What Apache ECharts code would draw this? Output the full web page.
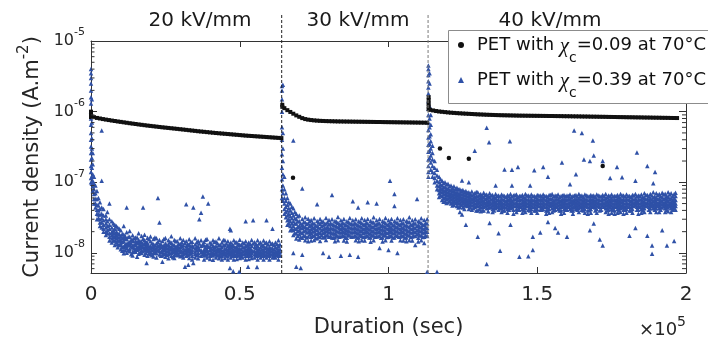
<!DOCTYPE html>
<html><head><meta charset="utf-8">
<script src="https://cdn.jsdelivr.net/npm/echarts@6/dist/echarts.min.js"></script>
<style>html,body{margin:0;padding:0;background:#fff}#c{width:708px;height:345px}</style>
</head><body><div id="c"></div>
<script>
// ---------- data (t in kiloseconds, values in 1e-9 A.m^-2) ----------
const T_UNIT = 1000;
const V_UNIT = 1e-9;
const xTickLabels = ['0', '0.5', '1', '1.5', '2'];
const fieldLabels = ['20 kV/mm', '30 kV/mm', '40 kV/mm'];
const stepTimes = [64.1, 113.3];
const minorTickValues = [6e-9,7e-9,8e-9,9e-9,2e-8,3e-8,4e-8,5e-8,6e-8,7e-8,8e-8,9e-8,2e-7,3e-7,4e-7,5e-7,6e-7,7e-7,8e-7,9e-7,2e-6,3e-6,4e-6,5e-6,6e-6,7e-6,8e-6,9e-6];
const seriesNames = ['PET with \u03c7c=0.09 at 70\u00b0C', 'PET with \u03c7c=0.39 at 70\u00b0C'];
const legendValues = ['0.09', '0.39'];

// black series: rows [t, v1, v2, ...]
const blackSeg1 = [[0,1000,940,880,840],[1,835],[2,815],[3,800],[4,785],[5,772],[6,760],[7,748],[8,737],[9,726],[10,716],[11,706],[12,696],[13,686],[14,677],[15,668],[16,659],[17,651],[18,643],[19,635],[20,628],[21,621],[22,614],[23,607],[24,600],[25,594],[26,588],[27,582],[28,576],[29,570],[30,564],[31,558],[32,552],[33,546],[34,540],[35,534],[36,528],[37,523],[38,518],[39,513],[40,508],[41,503],[42,498],[43,494],[44,490],[45,486],[46,482],[47,478],[48,474],[49,470],[50,466],[51,462],[52,458],[53,455],[54,452],[55,449],[56,446],[57,443],[58,440],[59,437],[60,434],[61,431],[62,428],[63,425],[64,422]];
const blackSeg2 = [[64.3,1250,1170],[65,1120],[66,1050],[67,990],[68,935],[69,885],[70,845],[71,810],[72,785],[73,770],[74,760],[75,752],[76,746],[77,741],[78,738],[79,735],[80,733],[81,731],[82,729],[83,727],[84,726],[85,725],[86,724],[87,723],[88,722],[89,721],[90,720],[91,719],[92,718],[93,717],[94,716],[95,715],[96,714],[97,713],[98,712],[99,711],[100,710],[101,709],[102,708],[103,707],[104,706],[105,705],[106,704],[107,703],[108,702],[109,701],[110,700],[111,699],[112,698],[113,697]];
const blackSeg3 = [[113.5,1600,1450,1300,1180,1080],[114,1060],[115,1040],[116,1020],[117,1005],[118,995],[119,985],[120,975],[121,967],[122,960],[123,953],[124,947],[125,941],[126,936],[127,931],[128,926],[129,921],[130,916],[131,912],[132,908],[133,904],[134,901],[135,898],[136,895],[137,892],[138,890],[139,888],[140,886],[141,884],[142,882],[143,880],[144,878],[145,877],[146,876],[147,875],[148,874],[149,873],[150,872],[151,871],[152,870],[153,869],[154,868],[155,867],[156,866],[157,865],[158,864],[159,862],[160,861],[161,860],[162,858],[163,857],[164,856],[165,854],[166,853],[167,852],[168,850],[169,849],[170,848],[171,846],[172,845],[173,844],[174,842],[175,841],[176,840],[177,838],[178,837],[179,836],[180,834],[181,833],[182,832],[183,830],[184,829],[185,828],[186,826],[187,825],[188,824],[189,822],[190,821],[191,820],[192,818],[193,817],[194,816],[195,814],[196,813],[197,812]];
const blackStray = [[67.9,116],[117.3,300],[120.3,220],[127,215],[172,170]];

// blue series: rows [t, v1, v2, ...]
const blueSeg1 = [
[0,4000,3500,3000,2500,2000,1600,1300,1000,800,650,500,400,320,260,210,170,140,115,100],
[0.3,1500,700,420,300,220,160,120,95],[0.6,260,180,130,105,88,75],[1,120,95,80,68,58,50],
[1.5,90,70,58,50,44],[2,75,58,48,41,36,30],[2.5,60,47,40,35,31],[3,52,42,35,30,27,24],
[3.6,540,105,44,36,31,27,23],[4.2,42,34,29,25,22,20],[5,34,30,26,23,20,18],[5.5,38,28,24,21,19],
[6.2,50,30,25,22,19,17,15],[7,28,23,20,18,16,14],[7.5,26,21,19,17,15],[8,25,22,19,17,15,13],
[8.5,24,20,18,16,14],[9,23,19,17,15,13.5,12],[9.5,22,18.5,16.5,15,13],
[10,21,17.2,15.1,13.8,12.9,11.3],[10.5,18.6,16.2,14.4,12.1,10.7],[11,24,18.3,16.4,14.6,12.2,10.8,9.9],
[11.5,17.4,15.8,13.3,12.5,11.1],[12,44,19.6,15.7,13.4,12.6,11.7,10.1],[12.5,16.8,14.1,12.9,10.9],
[13,20.4,16.9,14.2,13.1,11.4,10.6],[13.5,15.4,13.7,12.3,9.6],[14,17.8,15.3,14.7,12.4,11.9,10.3,9.2],
[14.5,16.1,13.2,11.6,10.5],[15,16.6,14.9,13.6,12.8,11.2,10.4],[15.5,8.8,16.5,14,12,11.1],
[16,19,15.2,13.9,12.2,11.5,9.7],[16.5,14.6,13.1,11.8,10.2],[17,17.3,14.4,12.7,12.1,10.9,10],
[17.5,44,15.9,13.3,12,10.6],[18,18.1,15.1,13.5,11.7,11,9.4],[18.5,14.2,12.6,11.3,10.1],[18.7,7.2,13.9,12.2],
[19,16.4,13.8,12.9,11.6,10.7,9.1],[19.5,15.6,12.4,11.1,9.8],[20,17.1,14.6,12.3,11.8,10.4,9.6],
[20.5,13.7,12.1,10.9,9.3],[21,15.7,13.3,12.4,11.2,10.1,8.9],[21.5,16.6,12.8,11.5,10.3],
[22,16.2,13.6,11.9,11,9.9,8.6],[22.5,60,14.3,12.6,10.8],[23,27,15.2,12.9,11.7,10.6,9.5],
[23.5,13.4,12.1,10.2,9.1],[24,7.5,14.7,12.3,11.1,10.3,9.2],[24.5,15.8,12.7,11.4,9.7],
[25,16.3,13.6,12.2,10.9,10,8.8],[25.5,13.1,11.8,10.5,9.4],[26,15.1,12.9,11.6,10.7,9.6,8.4],
[26.5,14.4,12.4,11.2,9.9],[27,17.2,13.9,12.1,11.3,10.1,9.1],[27.5,13.2,11.7,10.4,8.7],
[28,15.3,12.8,11.5,10.6,9.4,8.5],[28.5,14.8,12.2,11,9.8],[29,14.6,12.6,11.4,10.3,9.3],
[29.5,13.5,11.9,10.8,9.5],[30,16.1,13.4,12.1,11.1,10.2,9],[30.5,14.1,12.5,10.6,9.2],
[31,15.2,12.9,11.6,10.4,9.6,8.6],[31.6,6.4,13.8,11.1,10],[32,49,14.6,12.4,11.2,10.1,9.1],
[32.5,13.3,11.8,10.7,9.4],[32.7,6.8,12.9,10.5],[33,15.6,13.1,11.4,10.6,9.6,8.5],[33.5,14.2,12.3,11.1,9.9],
[34,14.4,12.6,11,10.2,9.1,8.1],[34.4,44,7.2,12.1],[35,16.2,13.2,11.6,10.5,9.7,8.6],[35.5,14,12.2,10.9,9.3],
[36,14.7,12.4,11.2,10.1,9.4,8.4],[36.4,30,13.6,11.3],[37,37,15.1,12.6,11,10.2,9.1],[37.6,63,13.2,10.4,9.6],
[38,14.3,12.7,11.1,10,9.2,8.1],[38.5,15.4,12.1,10.7,9.5],[39,15.7,13.1,11.4,10.6,9.5,8.6],[39.4,50,12.2,10.1],
[40,14.1,12.2,11.1,9.9,9.1,8.2],[40.5,13.4,11.6,10.3,9.4],[41,8,15.1,12.6,11.2,10.1,9.2],[41.5,14.3,12,10.8,9.6],
[42,14.5,12.4,11,10.2,9.6,8.6],[42.5,13.7,11.5,10.5,9.2],[43,16.2,13.1,11.6,10.6,9.4,8.4],[43.5,12.8,11.3,10.1,8.9],
[44,14,12.1,10.9,10,9.1,8.1],[44.5,15.2,12.7,10.6,9.5],[45,15.1,12.9,11.5,10.4,9.6,8.5],[45.5,13.6,11.4,10.2,9.2],
[46,14.6,12.5,11.1,10,9,8.1],[46.5,13.2,11.8,10.5,9.6],[46.7,22,6.1,12.9,10.6],[47,21,14.1,12,10.6,9.5,8.6],
[47.5,13.1,11.3,10.2,9.1],[47.8,5.5,12.6,10.1],[48,15.1,12.4,11.1,10.1,9.1,8.1],[48.5,14,11.9,10.7,9.4],
[49,14.2,12.1,11,9.9,9.1,8.2],[49.5,13.3,11.5,10.3,9.3],[49.8,5.4,13,10.6],[50,15.4,13.1,11.6,10.5,9.5,8.5],
[50.5,12.9,11.2,10,9],[51,14.1,12.2,10.6,9.6,8.6],[51.5,13.7,11.9,10.8,9.7],[52,28,14.6,12.5,11.1,10.1,9.1,8.1],
[52.5,13.1,11.4,10.3,9.2],[52.8,6.4,12.8,10.4],[53,14.1,12.1,11,10,9.1,8.2],[53.5,13.5,11.6,10.5,9.4],
[54,15.2,12.6,11.1,10.1,9.2,8.5],[54.5,29,13.6,10.6],[55,14.2,12.1,10.6,9.6,8.6],[55.5,13.3,11.7,10.4,9.3],
[55.8,6.3,12.6,10.1],[56,15.1,12.5,11.1,10,9.1,8.1],[56.5,13.6,11.5,10.2,9.4],[57,14.1,12,10.6,9.6,8.6],
[57.5,12.9,11.3,10.1,9.1],[58,15,12.6,11.1,10.1,9.1,8.1],[58.5,13.8,11.8,10.5,9.3],[59,29,14.1,12.1,10.6,9.6,8.6],
[59.5,13.2,11.4,10.2,9.2],[60,14.6,12.1,11.1,10,9.1,8.1],[60.5,13.5,11.7,10.6,9.5],[61,22,13.6,11.6,10.6,9.6,8.6],
[61.5,12.9,11.2,10.1,9.1],[62,14.1,12.1,10.6,9.6,8.6],[62.5,13.4,11.6,10.4,9.4],[63,15.1,12.6,11.1,10.1,9.1,8.1],
[63.5,13.2,11.4,10.2,9.2]];
const blueSeg2 = [
[64.2,2300,2000,1500,1000,600,400,250,160,110,80,60],[64.5,2400,500,300,200,130,90,70,55],
[65,120,80,60,50,42,36],[65.5,70,55,45,38,32],[66,60,48,40,34,29,25],[66.5,52,43,36,30,26],
[67,50,40,33,28,24,21],[67.5,45,37,31,26,22],[68,390,43,34,28,24,21,18,10],[68.5,38,31,26,22,19],
[69,36,30,26,22,19,16,6.4],[69.5,33,28,23.5,20.5,17.5],
[70,34,28,24.3,21.2,18.4,15.5],[70.5,6.1,26.1,22.4,19.6,16.8],[71,82,30.2,25.1,22.7,19.1,16.4,9.4],
[71.5,27.4,23.6,20.3,17.6],[72,32,27.1,23.2,20.8,17.3,15.1],[72.5,25.7,22.1,19.4,16.6],
[73,30.4,26.3,22.6,19.9,17.1,14.6],[73.5,28.1,24.2,20.6,18.2],[74,29.3,25.1,21.8,19.2,16.9,15],
[74.5,26.6,23.1,20.1,17.5],[75,31.1,26.2,22.7,20.3,17.6,15.2],[75.5,24.4,21.5,18.8,16.3],
[76,49,28.3,24.1,21.2,18.6,16.1],[76.5,26.9,22.9,19.7,17.2],[77,30.2,25.8,22.1,19.3,17,14.7],
[77.5,27.7,23.8,20.7,18],[78,28.2,24.6,21.6,19.1,16.5,10],[78.5,25.4,22.2,19.4,16.9],
[79,31.3,26.1,22.5,20.2,17.7,15.2],[79.5,27.1,23.4,20.5,17.9],[80,29.2,25.2,21.9,19.4,16.9,8.8],
[80.5,26.3,22.8,19.9,17.3],[81,66,30.1,25.6,22.1,19.2,16.6],[81.5,24.8,21.6,18.9,16.4],
[82,28.4,24.5,21.4,18.9,16.7,14.6],[82.5,27.6,23.7,20.4,17.8],[83,32.2,26.8,23.1,20.1,17.4,15.1],
[83.5,25.3,22.4,19.6,17],[84,29.1,25.1,22,19.5,17.2,9.1],[84.5,26.7,23.2,20.2,17.6],
[85,30.3,26.1,22.6,19.9,17.5,15],[85.5,24.9,21.7,19.1,16.5],[86,28.1,24.6,21.3,18.8,16.4,14.5],
[86.5,27.3,23.5,20.6,18.1],[87,31.2,26.4,23,20.1,17.6,9.4],[87.5,25.6,22.3,19.5,16.9],
[88,54,29.1,25.2,22.1,19.6,17.1],[88.5,26.2,23,20,17.4],[89,30.1,26,22.4,19.8,17.3,15.1],
[89.5,24.7,21.7,19,16.6],[89.8,44,8.8],[90,28.2,24.4,21.4,18.9,16.6,14.6],[90.5,27.4,23.6,20.5,17.9],
[91,31.1,26.6,22.9,20.2,17.5,15.1],[91.5,25.2,22,19.3,16.8],[92,29.2,25.1,21.9,19.4,17,15],
[92.5,26.8,23.3,20.3,17.7],[93,52,30.2,26.1,22.6,19.9,17.4],[93.5,24.6,21.6,18.9,16.5],
[94,28.3,24.5,21.4,18.9,16.6,14.4],[94.5,27.2,23.4,20.4,17.8],[95,32.1,27,23.1,20.1,17.6,15.1],
[95.5,25.1,22.2,19.5,16.9],[96,50,29.1,25.2,22,19.5,17.1],[96.5,26.4,22.8,20,17.4],
[97,30.2,26.1,22.5,19.9,17.4,11.7],[97.5,24.3,21.4,18.8,16.4],[98,28.1,24.6,21.5,19,16.6,14.5],
[98.5,27.5,23.7,20.7,18],[99,31.2,26.4,23,20,17.6,15.1],[99.5,25.3,22.1,19.3,16.8],
[100,29.1,25.1,22,19.5,17,11],[100.5,105,26.9,23.2,20.4,17.6],[101,30.3,26,22.4,19.9,17.4,15],
[101.5,24.8,21.7,19,16.5],[102,68,46,28.2,24.4,21.5,19.1,16.6],[102.5,27.1,23.5,20.5,17.8],
[103,31.1,26.6,23,20.1,17.5,10],[103.5,25.4,22.3,19.5,16.9],[104,29.3,25.1,21.9,19.4,17.1,15.1],
[104.5,26.5,23,20.2,17.6],[105,30.1,26.2,22.6,19.9,17.4,15],[105.5,24.6,21.6,18.9,16.5],
[106,28.3,24.4,21.4,18.9,16.5,14.6],[106.5,27.6,23.8,20.6,17.9],[107,32.1,27.1,23.1,20.1,17.6,15.1],
[107.5,25.2,22.1,19.4,16.8],[108,29.1,25.1,22,19.5,17.1,15],[108.5,26.3,22.9,20.1,17.5],
[109,30.1,26.2,22.5,19.8,17.4,13],[109.6,58,24.1,20.8,18.3],[110,28.1,24.6,21.4,18.9,16.4,14.5],
[110.5,27.3,23.5,20.4,17.8],[111,31.1,26.4,23,20.2,17.6,15.1],[111.5,25.1,22.1,19.4,16.8],
[112,29.2,25,21.9,19.5,17,13.8],[112.5,26.7,23.2,20.3,17.7],[113,30.3,26.2,22.5,19.9,17.4,5.4]];
const blueSeg3 = [
[113.4,4500,4000,3300,2700,2200,1800,1400,1100,900,700,550,430,340,270,210,170,140,120],
[113.8,3500,2500,1200,800,600,450,350,280,220],[114.2,900,650,480,380,300,240,190,150],
[114.8,330,260,210,170,140,120],[115.5,200,160,135,115,100],[116.3,150,125,105,90,80,5.4],
[117,120,100,88,78,70,62],[117.5,110,94,83,74,66],[118,105,90,80,72,64,56],[118.5,98,85,76,68,60,53],
[119,100,86,76,68,61,54],[119.5,93,81,72,65,58,51],[120,95,82,73,66,59,52],[120.5,88,77,69,62,55],
[121,90,78,70,63,57,50],[121.5,84,74,66,59,53,47],[122,88,76,68,61,55,48],[122.5,81,71,64,57,51],
[123,84,73,65,59,53,46],[123.5,79,69,62,56,50,44],[124,80,70,63,57,51,45,38],[124.5,76,67,60,54,48],
[124.7,106,35],[125,78,68,61,55,50,44],[125.5,73,65,58,52,47,42],[126,75,66,59,54,48,25],
[126.5,71,63,56,51,46],[127,100,72,64,58,52,47,42],[127.5,69,61,55,49,44],[128,74,65,58,52,47,41],
[128.5,67,60,54,48,43],[129,280,70,62,56,50,45],[129.5,73,64,57,51,46,40],[130,72,63,56,51,46,40,17],
[130.5,66,59,53,47,42],[131,68,60,54,49,44,39],[131.5,64,56,50,45,40],[132,71,62,55,50,45,40],
[132.5,66,58,51,46],[133,590,67,59,53,48,43,7],[133.5,63,55,49,44,39],[133.8,370,62,50],
[134,70,61,54,49,44,26.5],[134.5,65,57,50,45],[135,66,58,52,47,42,38],[135.5,62,55,49,44,40],
[136,90,68,60,53,48,43],[136.5,64,56,50,45],[137,65,57,51,46,41,19],[137.5,10.7,63,55,51,47,43],
[138,67,59,53,48,43,38],[138.5,65,57,50,45,40],[139,152,64,56,50,45,40],[139.5,62,54,49,44],
[140,66,58,52,47,42,37],[140.5,64,56,50,45,41],[140.8,380,60,48],[141,68,59,53,48,43,25],
[141.5,150,90,63,55,49,44],[142,65,57,51,46,41,36],[142.5,66,58,51,46],[143,67,59,52,47,42,38],
[143.5,165,62,56,50,46,41],[144,64,56,50,45,41,8.8],[144.5,64,57,50,45],[145,66,58,52,47,42,37],
[145.5,62,55,49,44,40],[146,68,59,53,48,43,38],[146.5,65,57,51,46],[147,65,57,51,46,41,9],
[147.5,63,55,49,44,40],[147.6,90,55,45],[148,67,58,52,47,42,37],[148.5,17,11,64,56,50,45],
[149,148,64,56,50,45,40],[149.5,62,55,49,44,40],[150,66,58,52,47,42,37],[150.5,65,57,51,46],
[151,65,57,51,46,41,19.5],[151.5,63,56,50,45,41],[152,165,67,59,52,47,42],[152.5,64,57,50,45],
[153,64,56,50,45,40,36],[153.5,62,55,49,44,40],[153.6,120,27.5,54],[154,66,58,52,47,42,37],
[154.5,66,58,51,46],[155,68,59,53,48,43,38],[155.5,63,55,49,44,40],[156,65,57,51,46,41,22.5],
[156.5,64,57,50,45],[157,67,58,52,47,42,19.5],[157.5,62,55,49,44,40],[158,64,56,50,45,40,36],
[158.3,190,55,46],[158.5,65,57,51,46],[159,66,58,52,47,42,37],[159.5,63,56,50,45,41],
[160,65,57,51,46,41,17],[160.5,64,57,50,45],[161,94,67,58,52,47,42],[161.5,62,55,49,44,40],
[162,64,56,50,45,40,36],[162.4,540,54,44],[162.5,65,57,51,46],[163,130,66,58,52,47,42],
[163.5,63,56,50,45,41],[164,68,59,53,48,43,38],[164.5,64,57,50,45],[165,500,65,57,51,46,41],
[165.5,62,55,49,44,40],[165.7,210,55,47],[166,67,58,52,47,42,37],[166.5,65,57,51,46],
[167,64,56,50,45,40,36],[167.5,63,56,50,45,41],[167.7,200,21,52],[168,66,58,52,47,42,37],
[168.5,64,57,50,45],[168.7,390,55,45],[169,240,65,57,51,46,26],[169.5,62,55,49,44,40],
[170,67,58,52,47,42,37],[170.5,65,57,51,46],[171,64,56,50,45,40,15.5],[171.5,63,56,50,45,41],
[172,200,66,58,52,47,12.7],[172.5,64,57,50,45],[173,68,59,53,48,43,38],[173.5,62,55,49,44,40],
[174,65,57,51,46,41,36],[174.5,115,64,58,54,48,44],[175,67,58,52,47,42,37],[175.5,63,56,50,45,41],
[176,64,56,50,45,40,36],[176.5,64,57,50,45],[176.8,165,55,46],[177,66,58,52,47,42,37],
[177.5,62,55,49,44,40],[178,68,59,53,48,43,38],[178.5,118,65,57,52,47,44],[179,65,57,51,46,41,36],
[179.5,63,56,50,45,41],[180,67,58,52,47,42,37],[180.5,64,57,50,45],[181,64,56,50,45,40,17.5],
[181.5,62,55,49,44,40],[182,66,58,52,47,42,37],[182.5,65,57,51,46],[183,105,68,59,53,48,22.5],
[183.5,265,63,55,50,45,41],[184,65,57,51,46,41,36],[184.5,64,57,50,45],[185,67,58,52,47,42,37],
[185.5,62,55,49,44,40],[186,70,60,53,48,43,38],[186.5,66,58,51,46],[187,170,66,58,52,47,17.5],
[187.5,63,56,50,45,41],[188,68,59,53,48,43,38],[188.5,65,57,51,46],[188.6,12.7,9.7,50],
[189,97,72,61,54,48,43],[189.5,63,56,50,45,41],[189.6,140,56,46],[190,70,60,53,48,43,38],
[190.5,66,58,51,46],[191,68,59,53,48,43,38],[191.5,64,56,50,45,41],[192,71,61,54,49,44,21],
[192.5,67,58,51,46],[193,69,60,53,48,43,38],[193.5,64,56,50,45,41],[193.6,12.7,56,47],
[194,72,62,55,49,44,39],[194.5,67,58,51,46],[195,70,60,53,48,43,38],[195.5,64,56,50,45,41],
[196,68,59,53,48,43,14.8],[196.5,71,64,56,50,46,41]];

// ---------- build ----------
function expand(rowsList) {
  const pts = [];
  rowsList.forEach(rows => rows.forEach(r => {
    for (let i = 1; i < r.length; i++) pts.push([r[0] * T_UNIT, r[i] * V_UNIT]);
  }));
  return pts;
}
// dense black records drawn as small square dots so the run reads as a solid trace;
// isolated black records drawn as round dots
const blackData = expand([blackSeg1, blackSeg2, blackSeg3])
  .concat(expand([blackStray]).map(p => ({value: p, symbol: 'circle', symbolSize: 4.5})));
const blueData = expand([blueSeg1, blueSeg2, blueSeg3]);

const FONT = 'DejaVu Sans';
const INK = '#262626';
const X_MIN = 0, X_MAX = 200000, Y_MIN = 5.2e-9, Y_MAX = 1e-5;

const chart = echarts.init(document.getElementById('c'), null, {renderer: 'canvas'});

const axisLineStyle = {color: '#333', width: 1};
const nStyle = {fontFamily: FONT, fontSize: 18, lineHeight: 18, verticalAlign: 'top', color: '#111'};
const option = {
  animation: false,
  backgroundColor: '#fff',
  grid: {left: 91, right: 22, top: 41, bottom: 72, containLabel: false},
  xAxis: [{
    type: 'value', min: X_MIN, max: X_MAX, interval: 50000, position: 'bottom',
    axisLine: {show: true, onZero: false, lineStyle: axisLineStyle},
    axisTick: {show: true, inside: true, length: 6, lineStyle: axisLineStyle},
    axisLabel: {margin: 12, fontFamily: FONT, fontSize: 20, color: INK,
      formatter: v => xTickLabels[Math.round(v / 50000)]},
    splitLine: {show: false},
    name: 'Duration (sec)', nameLocation: 'middle', nameGap: 44,
    nameTextStyle: {fontFamily: FONT, fontSize: 21, color: INK}
  }, {
    type: 'value', min: X_MIN, max: X_MAX, interval: 50000, position: 'top',
    axisLine: {show: true, onZero: false, lineStyle: axisLineStyle},
    axisTick: {show: true, inside: true, length: 6, lineStyle: axisLineStyle},
    axisLabel: {show: false}, splitLine: {show: false}
  }],
  yAxis: [{
    type: 'log', logBase: 10, min: Y_MIN, max: Y_MAX, position: 'left',
    axisLine: {show: true, onZero: false, lineStyle: axisLineStyle},
    axisTick: {show: true, inside: true, length: 6, lineStyle: axisLineStyle},
    minorTick: {show: false},
    splitLine: {show: false},
    axisLabel: {
      showMinLabel: false, margin: 6, color: INK,
      formatter: v => '{b|10}{s|' + Math.round(Math.log10(v)) + '}',
      rich: {
        b: {fontFamily: FONT, fontSize: 16, lineHeight: 16, verticalAlign: 'bottom', color: INK},
        s: {fontFamily: FONT, fontSize: 11, lineHeight: 11, padding: [0, 0, 11, 0], verticalAlign: 'bottom', color: INK}
      }
    },
    name: '{n|Current density (A.m}{s|-2}{n|)}', nameLocation: 'middle', nameRotate: 90, nameGap: 48,
    nameTextStyle: {
      color: INK,
      rich: {
        n: {fontFamily: FONT, fontSize: 21, lineHeight: 21, verticalAlign: 'bottom', color: INK},
        s: {fontFamily: FONT, fontSize: 15, lineHeight: 15, padding: [0, 0, 11, 0], verticalAlign: 'bottom', color: INK}
      }
    }
  }, {
    type: 'log', logBase: 10, min: Y_MIN, max: Y_MAX, position: 'right',
    axisLine: {show: true, onZero: false, lineStyle: axisLineStyle},
    axisTick: {show: true, inside: true, length: 7, lineStyle: axisLineStyle},
    axisLabel: {show: false}, splitLine: {show: false}, minorTick: {show: false}
  }],
  legend: {
    orient: 'vertical', left: 448, top: 30, z: 20,
    padding: [6, 10, 3, 10], itemGap: 6, itemWidth: 6, itemHeight: 6,
    backgroundColor: 'transparent', borderWidth: 0,
    selectedMode: false,
    data: [{name: seriesNames[0], icon: 'circle'}, {name: seriesNames[1], icon: 'triangle'}],
    formatter: name => {
      const i = seriesNames.indexOf(name);
      return '{f|PET with }{chi|\u03c7}{sub|c}{n|=' + legendValues[i] + ' at 70\u00b0C}';
    },
    textStyle: {
      fontFamily: FONT, fontSize: 18, color: '#111',
      rich: {
        f: Object.assign({}, nStyle, {padding: [0, 0, 0, 8]}),
        n: nStyle,
        chi: {fontFamily: 'Liberation Serif', fontStyle: 'italic', fontSize: 21, lineHeight: 18, verticalAlign: 'top', color: '#111'},
        sub: {fontFamily: FONT, fontSize: 14, lineHeight: 14, padding: [15, 0, 0, 0], verticalAlign: 'top', color: '#111'}
      }
    }
  },
  graphic: [
    {
      type: 'rect', z: 15, silent: true,
      shape: {x: 448.5, y: 30.5, width: 300, height: 73},
      style: {fill: '#fff', stroke: '#8c8c8c', lineWidth: 1}
    },
    ...fieldLabels.map((txt, i) => ({
      type: 'text', x: [200, 358, 550][i], y: 21, z: 10,
      style: {text: txt, fontFamily: FONT, fontSize: 20, fill: '#1a1a1a', align: 'center', verticalAlign: 'middle'}
    })),
    {
      type: 'text', right: 22, top: 315, z: 10,
      style: {
        text: '{a|\u00d710}{b|5}',
        rich: {
          a: {fontFamily: FONT, fontSize: 18, lineHeight: 18, verticalAlign: 'bottom', fill: INK},
          b: {fontFamily: FONT, fontSize: 14, lineHeight: 14, padding: [0, 0, 10, 0], verticalAlign: 'bottom', fill: INK}
        }
      }
    }
  ],
  series: [
    {
      name: seriesNames[0], type: 'scatter', symbol: 'rect', symbolSize: [4, 4],
      itemStyle: {color: '#111', opacity: 1}, data: blackData, z: 3, silent: true
    },
    {
      name: seriesNames[1], type: 'scatter', symbol: 'triangle', symbolSize: 4.5,
      itemStyle: {color: '#2f51a7', opacity: 1}, data: blueData, z: 2, silent: true
    },
    {
      name: 'minorTicks', type: 'custom', silent: true, clip: false, z: 4,
      data: minorTickValues.map(v => [X_MIN, v]),
      renderItem: (params, api) => {
        const v = api.value(1);
        const pl = api.coord([X_MIN, v]);
        const pr = api.coord([X_MAX, v]);
        return {type: 'group', children: [
          {type: 'line', shape: {x1: pl[0], y1: pl[1], x2: pl[0] + 3.5, y2: pl[1]}, style: {stroke: '#333', lineWidth: 1}},
          {type: 'line', shape: {x1: pr[0], y1: pr[1], x2: pr[0] - 4, y2: pr[1]}, style: {stroke: '#333', lineWidth: 1}}
        ]};
      }
    },
    {
      name: 'steps', type: 'custom', silent: true, clip: false, z: 5,
      data: stepTimes.map(t => [t * T_UNIT, Y_MIN]),
      renderItem: (params, api) => {
        const t = api.value(0);
        const p0 = api.coord([t, Y_MIN]);
        const p1 = api.coord([t, Y_MAX]);
        return {type: 'line', shape: {x1: p0[0], y1: p0[1], x2: p1[0], y2: p1[1] - 26},
          style: {stroke: params.dataIndex === 0 ? '#222' : '#7a7a7a', lineWidth: 1, lineDash: [3, 2]}};
      }
    }
  ]
};
chart.setOption(option);
</script></body></html>
